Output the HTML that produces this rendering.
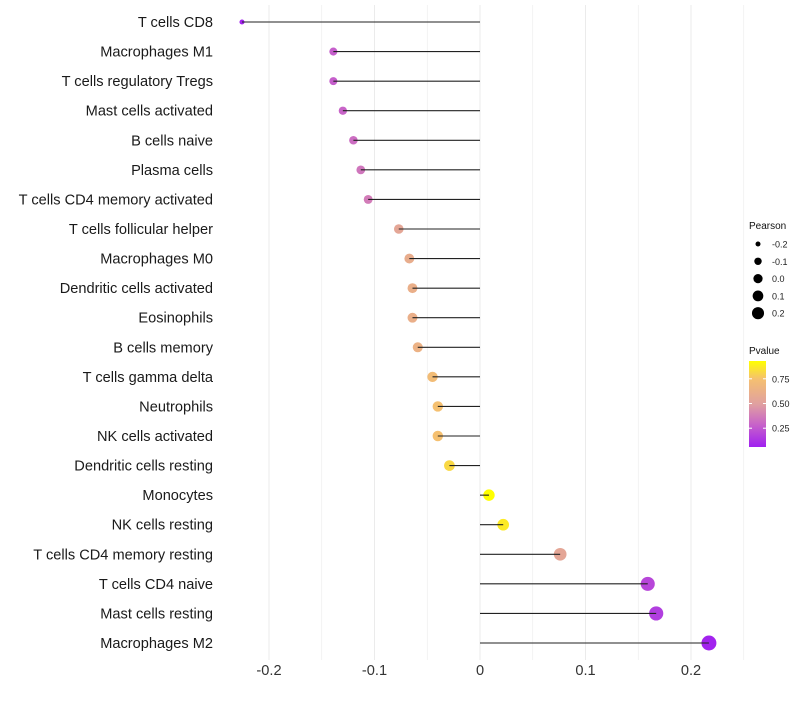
<!DOCTYPE html>
<html><head><meta charset="utf-8"><style>body{margin:0;background:#fff}svg{font-family:"Liberation Sans",sans-serif}</style></head>
<body>
<svg id="c" width="800" height="700"></svg>
<script>
const categories=["T cells CD8","Macrophages M1","T cells regulatory  Tregs","Mast cells activated","B cells naive","Plasma cells","T cells CD4 memory activated","T cells follicular helper","Macrophages M0","Dendritic cells activated","Eosinophils","B cells memory","T cells gamma delta","Neutrophils","NK cells activated","Dendritic cells resting","Monocytes","NK cells resting","T cells CD4 memory resting","T cells CD4 naive","Mast cells resting","Macrophages M2"];
const pearson=[-0.2256,-0.139,-0.139,-0.130,-0.120,-0.113,-0.106,-0.077,-0.067,-0.064,-0.064,-0.059,-0.045,-0.040,-0.040,-0.029,0.0085,0.022,0.076,0.159,0.167,0.217];
const pvalue=[0.08,0.28,0.28,0.3,0.33,0.36,0.38,0.55,0.6,0.62,0.62,0.64,0.72,0.75,0.75,0.82,0.93,0.87,0.55,0.2,0.17,0.08];
const xTicks=[-0.2,-0.1,0,0.1,0.2];
const xTickLabels=["-0.2","-0.1","0","0.1","0.2"];
const sizeLegend=[-0.2,-0.1,0,0.1,0.2];
const sizeLegendLabels=["-0.2","-0.1","0.0","0.1","0.2"];
const pLegend=[0.25,0.5,0.75];
const NS="http://www.w3.org/2000/svg",svg=document.getElementById('c');
function el(t,a,p){const e=document.createElementNS(NS,t);for(const k in a)e.setAttribute(k,a[k]);(p||svg).appendChild(e);return e;}
const X=v=>480+v*1055;
const Y=i=>22+i*(621/21);
const R=v=>Math.sqrt(Math.max(2,31.7+112*v));
const stops=[[0.07,[160,32,240]],[0.3,[200,100,200]],[0.5,[224,160,160]],[0.75,[245,192,112]],[0.93,[255,255,0]]];
function col(p){if(p<=stops[0][0])return'rgb('+stops[0][1]+')';for(let i=1;i<stops.length;i++){if(p<=stops[i][0]){const a=stops[i-1],b=stops[i],t=(p-a[0])/(b[0]-a[0]);return'rgb('+a[1].map((c,j)=>Math.round(c+(b[1][j]-c)*t))+')';}}return'rgb('+stops[4][1]+')';}
for(let v=-0.2;v<=0.251;v+=0.05){const g=el('line',{x1:X(v),x2:X(v),y1:5,y2:660,stroke:'#ebebeb','stroke-width':Math.abs(Math.round(v*100))%10==0?1:0.6});}
categories.forEach((c,i)=>{
 const t=el('text',{x:213,y:Y(i)+5,'text-anchor':'end','font-size':14.6,fill:'#1a1a1a'});t.textContent=c;
 
 const d=el('circle',{cx:X(pearson[i]),cy:Y(i),r:R(pearson[i]),fill:col(pvalue[i])});
 
 const l=el('line',{x1:X(0),x2:X(pearson[i]),y1:Y(i),y2:Y(i),stroke:'#222','stroke-width':1.1});
 
});
xTicks.forEach((v,i)=>{const t=el('text',{x:X(v),y:675,'text-anchor':'middle','font-size':14.6,fill:'#333'});t.textContent=xTickLabels[i];
 });
let t=el('text',{x:749,y:229,'font-size':10,fill:'#111'});t.textContent='Pearson';
sizeLegend.forEach((v,i)=>{const y=244+i*17.3;const c=el('circle',{cx:758,cy:y,r:R(v)*0.82,fill:'#000'});
 const tt=el('text',{x:772,y:y+3.5,'font-size':9,fill:'#222'});tt.textContent=sizeLegendLabels[i];});
t=el('text',{x:749,y:354,'font-size':10,fill:'#111'});t.textContent='Pvalue';
const defs=el('defs',{});const lg=el('linearGradient',{id:'pg',x1:0,y1:1,x2:0,y2:0},defs);
stops.forEach(s=>el('stop',{offset:((s[0]-0.07)/0.86*100)+'%','stop-color':'rgb('+s[1]+')'},lg));
const bar=el('rect',{x:749,y:361,width:17,height:86,fill:'url(#pg)'});
const PY=p=>446-(p-0.07)/0.86*85;
pLegend.forEach(p=>{el('line',{x1:749,x2:752,y1:PY(p),y2:PY(p),stroke:'#fff'});el('line',{x1:763,x2:766,y1:PY(p),y2:PY(p),stroke:'#fff'});
 const tt=el('text',{x:772,y:PY(p)+3.5,'font-size':9,fill:'#222'});tt.textContent=p.toFixed(2);});
</script>
</body></html>
